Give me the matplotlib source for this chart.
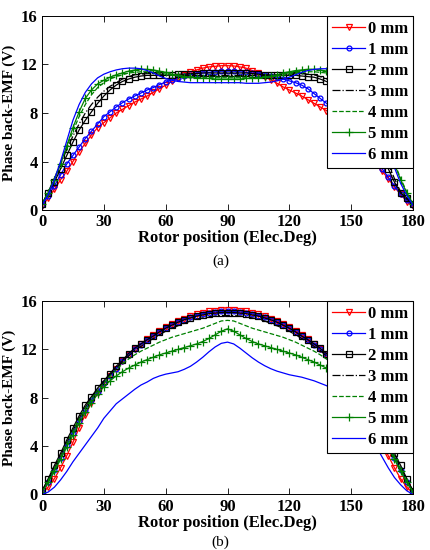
import matplotlib
matplotlib.use("Agg")
import matplotlib.pyplot as plt

# rotor position samples (electrical degrees)
angle = list(range(0, 181, 3))
labels = ["0 mm", "1 mm", "2 mm", "3 mm", "4 mm", "5 mm", "6 mm"]
y_ticks = [0, 4, 8, 12, 16]
x_ticks = [0, 30, 60, 90, 120, 150, 180]

# (a) phase back-EMF (V), rows: 0-27, 30-57, 60-87, 90-117, 120-147, 150-177, 180 deg
emf_a_0mm = [0.3, 1.0, 1.7, 2.5, 3.2, 4.0, 4.8, 5.5, 6.2, 6.8,
             7.2, 7.6, 8.0, 8.3, 8.6, 8.9, 9.15, 9.4, 9.7, 10.0,
             10.3, 10.6, 10.9, 11.15, 11.4, 11.55, 11.7, 11.8, 11.85, 11.9,
             11.9, 11.88, 11.8, 11.7, 11.5, 11.3, 11.0, 10.75, 10.45, 10.15,
             9.9, 9.65, 9.4, 9.1, 8.8, 8.5, 8.2, 7.8, 7.3, 6.7,
             6.1, 5.5, 4.9, 4.4, 3.8, 3.2, 2.6, 1.9, 1.3, 0.7,
             0.3]
emf_a_1mm = [0.4, 1.2, 2.0, 2.9, 3.8, 4.5, 5.2, 5.9, 6.5, 7.1,
             7.7, 8.1, 8.5, 8.85, 9.15, 9.4, 9.65, 9.9, 10.1, 10.35,
             10.55, 10.75, 10.9, 11.05, 11.15, 11.25, 11.3, 11.35, 11.4, 11.45,
             11.45, 11.45, 11.4, 11.35, 11.3, 11.25, 11.15, 11.05, 10.95, 10.8,
             10.65, 10.5, 10.3, 10.0, 9.6, 9.2, 8.8, 8.3, 7.8, 7.2,
             6.6, 6.0, 5.4, 4.8, 4.1, 3.4, 2.7, 2.0, 1.3, 0.8,
             0.4]
emf_a_2mm = [0.5, 1.4, 2.3, 3.4, 4.5, 5.6, 6.6, 7.4, 8.1, 8.8,
             9.4, 9.9, 10.3, 10.6, 10.8, 10.95, 11.05, 11.1, 11.1, 11.1,
             11.1, 11.15, 11.2, 11.2, 11.25, 11.25, 11.3, 11.3, 11.3, 11.3,
             11.3, 11.3, 11.3, 11.3, 11.25, 11.2, 11.15, 11.1, 11.1, 11.1,
             11.1, 11.1, 11.05, 11.0, 10.95, 10.8, 10.6, 10.3, 9.9, 9.4,
             8.8, 8.1, 7.3, 6.5, 5.5, 4.4, 3.4, 2.3, 1.4, 1.0,
             0.5]
emf_a_3mm = [0.5, 1.5, 2.6, 3.8, 5.0, 6.1, 7.1, 8.0, 8.7, 9.3,
             9.8, 10.2, 10.5, 10.8, 11.0, 11.15, 11.2, 11.25, 11.25, 11.2,
             11.2, 11.15, 11.1, 11.1, 11.1, 11.1, 11.1, 11.1, 11.1, 11.1,
             11.1, 11.1, 11.1, 11.1, 11.1, 11.1, 11.1, 11.15, 11.15, 11.2,
             11.2, 11.25, 11.25, 11.2, 11.15, 11.0, 10.8, 10.5, 10.2, 9.8,
             9.3, 8.7, 8.0, 7.1, 6.1, 5.0, 3.8, 2.6, 1.5, 0.9,
             0.5]
emf_a_4mm = [0.5, 1.5, 2.6, 3.9, 5.2, 6.5, 7.7, 8.7, 9.5, 10.1,
             10.5, 10.8, 11.0, 11.15, 11.3, 11.35, 11.4, 11.4, 11.35, 11.3,
             11.2, 11.1, 11.05, 11.0, 11.0, 10.95, 10.95, 10.95, 10.95, 10.95,
             10.95, 10.95, 10.95, 10.95, 10.95, 10.95, 11.0, 11.0, 11.05, 11.1,
             11.2, 11.3, 11.35, 11.4, 11.4, 11.35, 11.3, 11.15, 11.0, 10.8,
             10.5, 10.1, 9.5, 8.7, 7.7, 6.5, 5.2, 3.9, 2.6, 1.5,
             0.5]
emf_a_5mm = [0.5, 1.4, 2.5, 3.8, 5.3, 6.8, 8.1, 9.2, 9.9, 10.4,
             10.7, 10.95, 11.15, 11.3, 11.45, 11.55, 11.6, 11.6, 11.55, 11.45,
             11.35, 11.2, 11.1, 11.0, 10.95, 10.9, 10.85, 10.85, 10.8, 10.8,
             10.8, 10.8, 10.8, 10.85, 10.85, 10.9, 10.95, 11.05, 11.15, 11.3,
             11.4, 11.5, 11.55, 11.6, 11.6, 11.55, 11.45, 11.3, 11.15, 10.95,
             10.7, 10.4, 9.9, 9.2, 8.1, 6.8, 5.3, 3.8, 2.5, 1.4,
             0.5]
emf_a_6mm = [0.4, 1.3, 2.5, 4.0, 5.7, 7.4, 8.7, 9.7, 10.4, 10.9,
             11.2, 11.4, 11.55, 11.65, 11.7, 11.7, 11.65, 11.5, 11.3, 11.05,
             10.85, 10.7, 10.6, 10.55, 10.5, 10.5, 10.5, 10.5, 10.5, 10.5,
             10.5, 10.5, 10.5, 10.45, 10.45, 10.45, 10.5, 10.55, 10.65, 10.8,
             10.95, 11.15, 11.35, 11.5, 11.6, 11.65, 11.65, 11.6, 11.5, 11.35,
             11.1, 10.7, 10.1, 9.2, 8.1, 6.6, 5.0, 3.5, 2.2, 1.2,
             0.4]

# (b) phase back-EMF (V)
emf_b_0mm = [0.1, 0.6, 1.3, 2.2, 3.2, 4.3, 5.5, 6.6, 7.6, 8.4,
             9.1, 9.8, 10.4, 11.0, 11.5, 12.0, 12.45, 12.85, 13.2, 13.55,
             13.85, 14.1, 14.35, 14.55, 14.75, 14.9, 15.05, 15.15, 15.2, 15.25,
             15.25, 15.25, 15.2, 15.15, 15.05, 14.9, 14.75, 14.55, 14.35, 14.1,
             13.85, 13.55, 13.2, 12.85, 12.45, 12.0, 11.5, 11.0, 10.4, 9.8,
             9.1, 8.4, 7.6, 6.6, 5.5, 4.3, 3.2, 2.2, 1.3, 0.6,
             0.1]
emf_b_1mm = [0.2, 1.0, 2.0, 3.0, 4.1, 5.1, 6.1, 7.0, 7.8, 8.5,
             9.2, 9.8, 10.4, 11.0, 11.5, 12.0, 12.4, 12.75, 13.1, 13.45,
             13.75, 14.0, 14.25, 14.45, 14.65, 14.8, 14.95, 15.05, 15.1, 15.15,
             15.15, 15.15, 15.1, 15.05, 14.95, 14.8, 14.65, 14.45, 14.25, 14.0,
             13.75, 13.45, 13.1, 12.75, 12.4, 12.0, 11.5, 11.0, 10.4, 9.8,
             9.2, 8.5, 7.8, 7.0, 6.1, 5.1, 4.1, 3.0, 2.0, 1.0,
             0.2]
emf_b_2mm = [0.3, 1.3, 2.4, 3.4, 4.5, 5.5, 6.5, 7.4, 8.1, 8.8,
             9.4, 10.0, 10.6, 11.1, 11.65, 12.1, 12.45, 12.8, 13.1, 13.45,
             13.75, 14.0, 14.25, 14.45, 14.6, 14.75, 14.85, 14.95, 15.0, 15.05,
             15.05, 15.05, 15.0, 14.95, 14.85, 14.75, 14.6, 14.45, 14.25, 14.0,
             13.75, 13.45, 13.1, 12.8, 12.45, 12.1, 11.65, 11.1, 10.6, 10.0,
             9.4, 8.8, 8.1, 7.4, 6.5, 5.5, 4.5, 3.4, 2.4, 1.3,
             0.3]
emf_b_3mm = [0.3, 1.2, 2.2, 3.2, 4.3, 5.3, 6.3, 7.2, 8.0, 8.7,
             9.3, 9.9, 10.45, 10.95, 11.45, 11.9, 12.25, 12.6, 12.9, 13.2,
             13.5, 13.75, 13.95, 14.15, 14.35, 14.5, 14.6, 14.7, 14.75, 14.8,
             14.8, 14.8, 14.75, 14.7, 14.6, 14.5, 14.35, 14.15, 13.95, 13.75,
             13.5, 13.2, 12.9, 12.6, 12.25, 11.9, 11.45, 10.95, 10.45, 9.9,
             9.3, 8.7, 8.0, 7.2, 6.3, 5.3, 4.3, 3.2, 2.2, 1.2,
             0.3]
emf_b_4mm = [0.2, 1.1, 2.1, 3.1, 4.2, 5.2, 6.2, 7.1, 7.9, 8.6,
             9.2, 9.8, 10.3, 10.8, 11.2, 11.55, 11.85, 12.1, 12.35, 12.6,
             12.8, 13.0, 13.15, 13.3, 13.45, 13.6, 13.75, 13.95, 14.15, 14.35,
             14.4, 14.35, 14.15, 13.95, 13.75, 13.6, 13.45, 13.3, 13.15, 13.0,
             12.8, 12.6, 12.35, 12.1, 11.85, 11.55, 11.2, 10.8, 10.3, 9.8,
             9.2, 8.6, 7.9, 7.1, 6.2, 5.2, 4.2, 3.1, 2.1, 1.1,
             0.2]
emf_b_5mm = [0.2, 1.0, 1.9, 2.9, 3.9, 4.9, 5.9, 6.8, 7.6, 8.3,
             8.9, 9.4, 9.8, 10.15, 10.45, 10.7, 10.95, 11.15, 11.35, 11.55,
             11.7, 11.85, 12.0, 12.15, 12.3, 12.45, 12.65, 12.9, 13.2, 13.5,
             13.7, 13.5, 13.2, 12.9, 12.65, 12.45, 12.3, 12.15, 12.0, 11.85,
             11.7, 11.55, 11.35, 11.15, 10.95, 10.7, 10.45, 10.15, 9.8, 9.4,
             8.9, 8.3, 7.6, 6.8, 5.9, 4.9, 3.9, 2.9, 1.9, 1.0,
             0.2]
emf_b_6mm = [0.0, 0.2, 0.6, 1.2, 1.9, 2.7, 3.4, 4.1, 4.8, 5.5,
             6.3, 6.9, 7.5, 7.9, 8.3, 8.7, 9.05, 9.3, 9.6, 9.8,
             9.95, 10.05, 10.15, 10.35, 10.6, 10.95, 11.35, 11.8, 12.2, 12.5,
             12.6, 12.45, 12.1, 11.7, 11.3, 10.95, 10.65, 10.4, 10.2, 10.05,
             9.9, 9.8, 9.7, 9.55, 9.4, 9.2, 9.0, 8.7, 8.3, 7.8,
             7.2, 6.5, 5.7, 4.9, 4.0, 3.1, 2.2, 1.4, 0.8, 0.3,
             0.0]

GREEN = (0.0, 0.5, 0.0)
styles = [
    dict(color="red", ls="-", marker="v", ms=4, mfc="none", mew=0.9),
    dict(color="blue", ls="-", marker="o", ms=3.5, mfc="none", mew=0.9),
    dict(color="black", ls="-", marker="s", ms=5, mfc="none", mew=0.9),
    dict(color="black", ls="-."),
    dict(color=GREEN, ls="--"),
    dict(color=GREEN, ls="-", marker="+", ms=6, mew=0.9),
    dict(color="blue", ls="-"),
]

SERIF = "Liberation Serif"


def plot_panel(ax, series):
    for vals, lab, st in zip(series, labels, styles):
        ax.plot(angle, vals, lw=0.9, label=lab, **st)
    ax.set_xlim(0, 180)
    ax.set_ylim(0, 16)
    ax.set_xticks(x_ticks)
    ax.set_yticks(y_ticks)
    ax.tick_params(direction="in", top=True, right=True, length=4, width=0.6,
                   labelsize=12, pad=3)
    for t in ax.get_xticklabels() + ax.get_yticklabels():
        t.set_fontfamily(SERIF)
        t.set_fontweight("bold")
    for sp in ax.spines.values():
        sp.set_linewidth(0.7)
    ax.set_xlabel("Rotor position (Elec.Deg)", family=SERIF, weight="bold",
                  size=12, labelpad=0)
    ax.set_ylabel("Phase back-EMF (V)", family=SERIF, weight="bold", size=11)
    ax.yaxis.set_label_coords(-0.07, 0.5)
    leg = ax.legend(loc="upper right", borderaxespad=0, fancybox=False,
                    edgecolor="black", framealpha=1,
                    prop=dict(family=SERIF, weight="bold", size=12),
                    handlelength=2.0, handletextpad=0.15, labelspacing=0.3,
                    borderpad=0.3)
    leg.get_frame().set_linewidth(0.8)


fig = plt.figure(figsize=(4.3, 5.5), dpi=100)
ax_a = fig.add_axes([0.0977, 0.618, 0.8628, 0.353])
ax_b = fig.add_axes([0.0977, 0.101, 0.8628, 0.3517])

plot_panel(ax_a, [emf_a_0mm, emf_a_1mm, emf_a_2mm, emf_a_3mm,
                  emf_a_4mm, emf_a_5mm, emf_a_6mm])
plot_panel(ax_b, [emf_b_0mm, emf_b_1mm, emf_b_2mm, emf_b_3mm,
                  emf_b_4mm, emf_b_5mm, emf_b_6mm])

fig.text(0.513, 0.525, "(a)", ha="center", va="center", family=SERIF, size=11)
fig.text(0.513, 0.001, "(b)", ha="center", va="bottom", family=SERIF, size=11)

fig.savefig("out.png", dpi=100)
